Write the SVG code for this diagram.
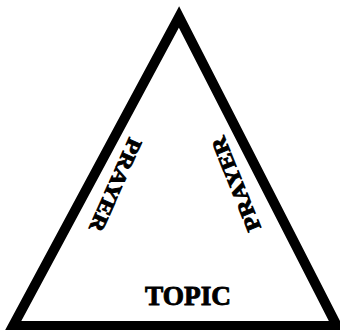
<svg xmlns="http://www.w3.org/2000/svg" width="340" height="330" viewBox="0 0 340 330">
<style>
.lbl{font-family:"Liberation Serif","Times New Roman",serif;font-weight:bold;fill:#000;stroke:#000;stroke-width:0.9;text-anchor:middle}
</style>
<rect width="340" height="330" fill="#fff"/>
<g id="triangle">
<polygon points="179,17 13,326 337,326" fill="none" stroke="#000" stroke-width="10" stroke-linejoin="miter"/>
</g>
<g id="prayer-left">
<text class="lbl" font-size="21" textLength="100" lengthAdjust="spacingAndGlyphs" transform="translate(115.5,185) rotate(114)" x="0" y="7">PRAYER</text>
</g>
<g id="prayer-right">
<text class="lbl" font-size="21" textLength="100" lengthAdjust="spacingAndGlyphs" transform="translate(236,184) rotate(-112)" x="0" y="7">PRAYER</text>
</g>
<g id="topic">
<text class="lbl" font-size="27" textLength="86" lengthAdjust="spacingAndGlyphs" x="188" y="305">TOPIC</text>
</g>
</svg>
